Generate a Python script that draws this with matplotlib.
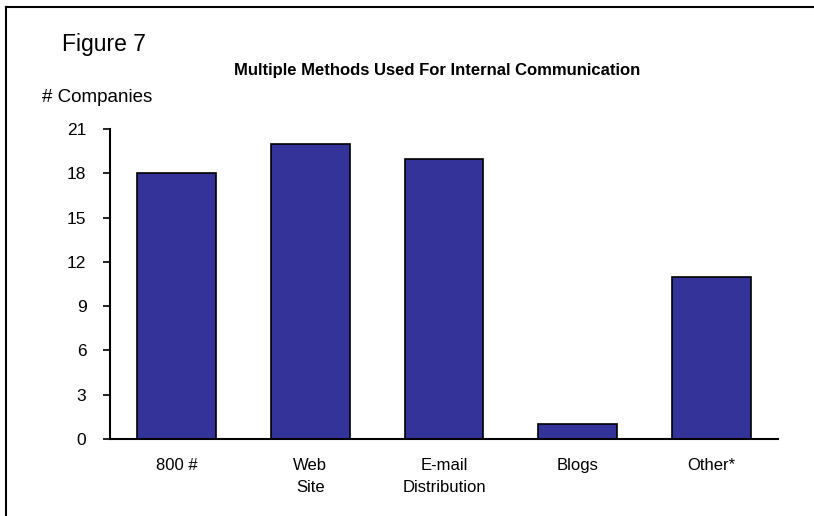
import matplotlib
matplotlib.use('Agg')
import matplotlib.pyplot as plt
from matplotlib.lines import Line2D

# data
categories = ['800 #', 'Web\nSite', 'E-mail\nDistribution', 'Blogs', 'Other*']
companies = [18, 20, 19, 1, 11]
y_ticks = [0, 3, 6, 9, 12, 15, 18, 21]

plt.rcParams['font.family'] = ['Liberation Sans', 'DejaVu Sans']

fig = plt.figure(figsize=(8.14, 5.16), dpi=100)
ax = fig.add_axes([110 / 814, 1 - 439 / 516, 668 / 814, 310 / 516])

x = list(range(len(categories)))
ax.bar(x, companies, width=0.59, color='#333399', edgecolor='black', linewidth=1.2)

ax.set_xlim(-0.5, len(categories) - 0.5)
ax.set_ylim(0, 21)
ax.set_yticks(y_ticks)
ax.set_xticks(x)
ax.set_xticklabels(categories, fontsize=12, linespacing=1.55)
ax.tick_params(axis='x', length=0, pad=14)
ax.tick_params(axis='y', length=5, width=1.2, direction='out', labelsize=12.5, pad=12)

for side in ['top', 'right']:
    ax.spines[side].set_visible(False)
for side in ['left', 'bottom']:
    ax.spines[side].set_linewidth(1.5)

# outer frame lines (top and left only)
fig.add_artist(Line2D([6 / 814, 1], [1 - 7 / 516, 1 - 7 / 516], transform=fig.transFigure,
                      color='black', linewidth=1.5))
fig.add_artist(Line2D([6 / 814, 6 / 814], [0, 1 - 7 / 516], transform=fig.transFigure,
                      color='black', linewidth=1.5))

fig.text(62 / 814, 1 - 45 / 516, 'Figure 7', fontsize=16.5, ha='left', va='center')
fig.text(437 / 814, 1 - 70 / 516, 'Multiple Methods Used For Internal Communication',
         fontsize=12, fontweight='bold', ha='center', va='center')
fig.text(42 / 814, 1 - 97 / 516, '# Companies', fontsize=13.5, ha='left', va='center')

fig.savefig('out.png', dpi=100)
